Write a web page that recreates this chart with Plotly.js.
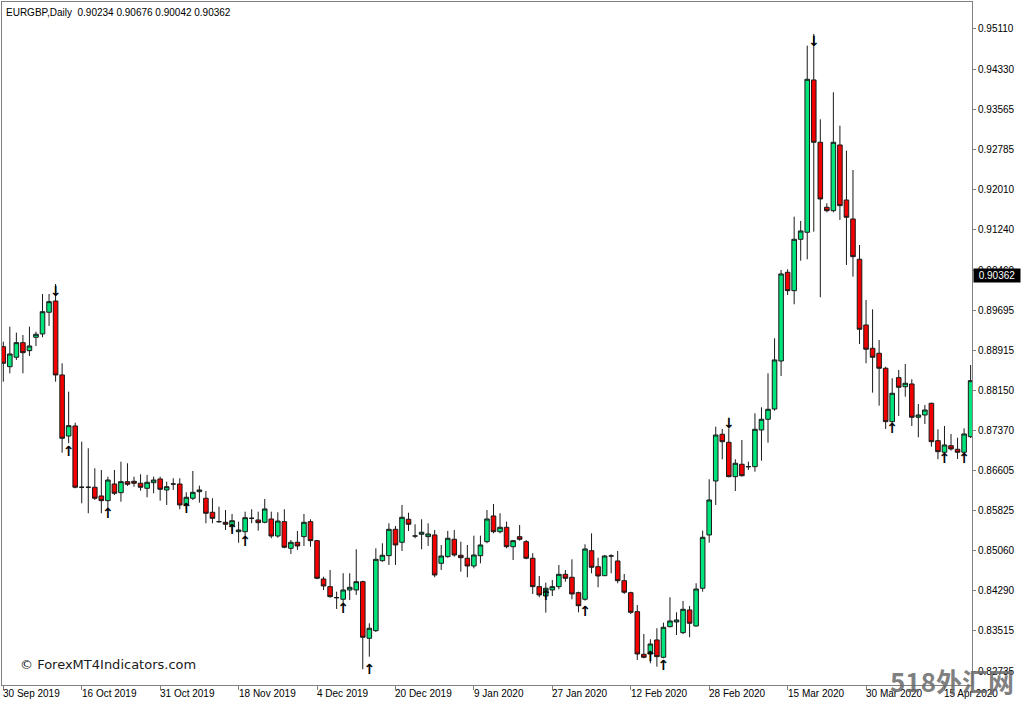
<!DOCTYPE html>
<html><head><meta charset="utf-8">
<script src="https://cdn.plot.ly/plotly-3.0.1.min.js"></script>
<style>html,body{margin:0;padding:0;background:#fff;}#chart{width:1024px;height:705px;}</style>
</head><body><div id="chart"></div>
<script>
const symbolTitle = "EURGBP,Daily";
const lastBarOHLC = [0.90234, 0.90676, 0.90042, 0.90362];

const opens = [0.88989,0.88603,0.88785,0.89066,0.88912,0.89170,0.89234,0.89652,0.89869,0.88444,
0.87268,0.87461,0.86280,0.86280,0.86280,0.86112,0.86022,0.86343,0.86176,0.86388,
0.86395,0.86357,0.86260,0.86368,0.86440,0.86228,0.86343,0.86343,0.85939,0.86068,
0.86195,0.86068,0.85798,0.85617,0.85605,0.85540,0.85424,0.85424,0.85682,0.85650,
0.85605,0.85669,0.85341,0.85617,0.85104,0.85220,0.85328,0.85617,0.85251,0.84513,
0.84365,0.84153,0.84122,0.84301,0.84301,0.84461,0.83370,0.83517,0.84865,0.84962,
0.85470,0.85220,0.85663,0.85341,0.85374,0.85328,0.85361,0.84815,0.84943,0.85278,
0.84970,0.84912,0.84763,0.84962,0.85232,0.85727,0.85424,0.85509,0.85135,0.85328,
0.85232,0.84912,0.84365,0.84185,0.84301,0.84365,0.84603,0.84546,0.84249,0.84122,
0.85058,0.84750,0.84576,0.84956,0.84860,0.84480,0.84249,0.83883,0.83062,0.83068,
0.83338,0.83004,0.83594,0.83684,0.83478,0.83916,0.83607,0.84334,0.85361,0.86401,
0.87301,0.87147,0.86484,0.86723,0.86677,0.86677,0.87384,0.87590,0.87788,0.88713,
0.90422,0.90068,0.91058,0.91193,0.94128,0.92927,0.91675,0.91609,0.92875,0.91815,
0.91449,0.90673,0.89407,0.88958,0.88862,0.88573,0.87544,0.88392,0.88218,0.88270,
0.87629,0.87673,0.87898,0.87178,0.86954,0.87081,0.87012,0.86954,0.87255];

const highs = [0.89085,0.89374,0.89259,0.89214,0.89374,0.89278,0.90004,0.90004,0.90197,0.88669,
0.88122,0.87524,0.87158,0.87031,0.86646,0.86613,0.86484,0.86613,0.86773,0.86742,
0.86484,0.86530,0.86517,0.86484,0.86484,0.86388,0.86453,0.86453,0.86183,0.86594,
0.86311,0.86208,0.86068,0.85906,0.85842,0.85765,0.85617,0.85810,0.85856,0.85810,
0.86054,0.85810,0.85798,0.85856,0.85264,0.85438,0.85765,0.85663,0.85264,0.84557,
0.84686,0.84268,0.84623,0.84623,0.85085,0.84480,0.83659,0.85104,0.85201,0.85586,
0.85534,0.85939,0.85790,0.85567,0.85663,0.85586,0.85457,0.85168,0.85438,0.85457,
0.85232,0.85168,0.85347,0.85347,0.85842,0.85958,0.85779,0.85617,0.85264,0.85553,
0.85264,0.85008,0.84571,0.84442,0.84494,0.84783,0.84686,0.84892,0.84268,0.85181,
0.85393,0.84923,0.84975,0.84989,0.85052,0.84609,0.84268,0.84012,0.83453,0.83351,
0.83563,0.83671,0.84160,0.83871,0.84089,0.83993,0.84430,0.85444,0.86434,0.87447,
0.87403,0.87417,0.86819,0.87191,0.86773,0.87706,0.87821,0.88476,0.89151,0.90467,
0.90480,0.91494,0.91411,0.94789,0.95014,0.93370,0.91752,0.93891,0.93247,0.92765,
0.92393,0.90948,0.89889,0.89709,0.89118,0.88603,0.88380,0.88540,0.88655,0.88361,
0.87885,0.87866,0.87910,0.87397,0.87461,0.87307,0.87235,0.87417,0.88636];

const lows = [0.88314,0.88476,0.88733,0.88476,0.88810,0.89002,0.89170,0.89388,0.88314,0.86946,
0.87128,0.86260,0.85971,0.85779,0.86035,0.85779,0.85842,0.86131,0.86002,0.86305,
0.86291,0.86214,0.86087,0.86164,0.86022,0.85939,0.86228,0.85856,0.85856,0.86035,
0.85983,0.85586,0.85586,0.85598,0.85457,0.85424,0.85212,0.85328,0.85586,0.85444,
0.85586,0.85297,0.85309,0.85104,0.84995,0.85072,0.85149,0.85135,0.84507,0.84301,
0.84153,0.83935,0.84045,0.84108,0.84205,0.82773,0.83016,0.83492,0.84846,0.84783,
0.84783,0.85052,0.85438,0.85297,0.85085,0.85149,0.84546,0.84686,0.84923,0.84943,
0.84653,0.84546,0.84719,0.84815,0.85201,0.85393,0.85393,0.85104,0.84879,0.85251,
0.84892,0.84224,0.84160,0.83864,0.84185,0.84314,0.84461,0.84122,0.83871,0.84095,
0.84623,0.84353,0.84571,0.84623,0.84430,0.84224,0.83838,0.82952,0.82985,0.82889,
0.82823,0.82985,0.83582,0.83434,0.83453,0.83390,0.83594,0.84268,0.85212,0.85939,
0.86819,0.86472,0.86208,0.86484,0.86613,0.86580,0.86792,0.87139,0.87756,0.88424,
0.89985,0.89806,0.90646,0.90673,0.91205,0.89941,0.91578,0.91578,0.91430,0.90563,
0.90338,0.89041,0.88669,0.88103,0.87852,0.87403,0.87480,0.87654,0.88025,0.87461,
0.87243,0.87499,0.87062,0.86819,0.86921,0.86985,0.86825,0.86892,0.87230];

const closes = [0.88669,0.88848,0.89066,0.88873,0.89002,0.89228,0.89663,0.89856,0.88444,0.87224,
0.87467,0.86280,0.86280,0.86280,0.86068,0.86022,0.86420,0.86164,0.86388,0.86338,
0.86357,0.86280,0.86376,0.86420,0.86241,0.86291,0.86343,0.85939,0.86087,0.86183,
0.86228,0.85779,0.85682,0.85617,0.85567,0.85636,0.85457,0.85694,0.85682,0.85598,
0.85862,0.85341,0.85630,0.85124,0.85220,0.85149,0.85605,0.85251,0.84526,0.84378,
0.84172,0.84153,0.84301,0.84353,0.84461,0.83390,0.83563,0.84892,0.84970,0.85470,
0.85168,0.85702,0.85567,0.85341,0.85413,0.85380,0.84590,0.84956,0.85297,0.84975,
0.84923,0.84763,0.84975,0.85168,0.85669,0.85424,0.85509,0.85135,0.85251,0.85278,
0.84912,0.84365,0.84205,0.84334,0.84365,0.84603,0.84526,0.84224,0.83998,0.85091,
0.84738,0.84571,0.84956,0.84956,0.84480,0.84257,0.83871,0.83068,0.83004,0.83260,
0.83016,0.83582,0.83704,0.83723,0.83929,0.83659,0.84320,0.85316,0.86035,0.87287,
0.87158,0.86484,0.86742,0.86503,0.86677,0.87397,0.87590,0.87783,0.88733,0.90390,
0.90068,0.91058,0.91218,0.94141,0.92927,0.91835,0.91609,0.92927,0.91706,0.91482,
0.90723,0.89324,0.88939,0.88785,0.88573,0.87544,0.88091,0.88207,0.88284,0.87629,
0.87673,0.87769,0.87158,0.86966,0.87095,0.87018,0.86954,0.87307,0.88334];

const upArrowIdx   = [10, 16, 28, 35, 37, 52, 56, 83, 89, 99, 101, 136, 144, 147];
const upArrowPrice = [0.86941,0.85746,0.85842,0.85438,0.85212,0.83916,0.82746,0.84166,0.83858,0.82991,0.82823,0.87384,0.86806,0.86806];
const downArrowIdx   = [8, 111, 124];
const downArrowPrice = [0.90024, 0.87499, 0.94841];

const xTickIdx = [0, 12, 24, 36, 48, 60, 72, 84, 96, 108, 120, 132, 144];
const xTickLabels = ["30 Sep 2019","16 Oct 2019","31 Oct 2019","18 Nov 2019","4 Dec 2019","20 Dec 2019",
  "9 Jan 2020","27 Jan 2020","12 Feb 2020","28 Feb 2020","15 Mar 2020","30 Mar 2020","15 Apr 2020"];
const yTickVals = [0.95110,0.94330,0.93565,0.92785,0.92010,0.91240,0.90460,0.89695,0.88915,
  0.88150,0.87370,0.86605,0.85825,0.85060,0.84290,0.83515,0.82735];
const yTickText = yTickVals.map(v => v.toFixed(5));

const copyrightText = "© ForexMT4Indicators.com";
const watermarkText = "518外汇网";

const barIdx = opens.map((_, i) => i);
const axisFont = {family: "Liberation Sans, Arial, sans-serif", size: 10, color: "#000"};
const borderGray = "#808080";
const arrowFont = {family: "DejaVu Sans", size: 14, color: "#000", weight: "bold"};

const traces = [
  {
    type: "candlestick",
    x: barIdx, open: opens, high: highs, low: lows, close: closes,
    increasing: {fillcolor: "#00e47c", line: {color: "#1a1a1a", width: 1}},
    decreasing: {fillcolor: "#f20000", line: {color: "#1a1a1a", width: 1}},
    whiskerwidth: 0,
    hoverinfo: "skip",
    showlegend: false
  },
  {
    type: "scatter", mode: "text",
    x: upArrowIdx, y: upArrowPrice, text: upArrowIdx.map(() => "↑"),
    textposition: "middle center", textfont: arrowFont,
    cliponaxis: false, hoverinfo: "skip", showlegend: false
  },
  {
    type: "scatter", mode: "text",
    x: downArrowIdx, y: downArrowPrice, text: downArrowIdx.map(() => "↓"),
    textposition: "middle center", textfont: arrowFont,
    cliponaxis: false, hoverinfo: "skip", showlegend: false
  }
];

const annotations = xTickIdx.map((ix, k) => ({
  x: ix, xref: "x", y: -0.0125, yref: "paper",
  text: xTickLabels[k], showarrow: false,
  xanchor: "left", yanchor: "middle", xshift: -2,
  font: axisFont
}));

annotations.push({
  x: 0, xref: "paper", y: 1, yref: "paper", xanchor: "left", yanchor: "top",
  xshift: 2, yshift: -3, showarrow: false,
  text: symbolTitle + "\u00a0\u00a0" + lastBarOHLC.map(v => v.toFixed(5)).join(" "),
  font: {family: "Liberation Sans, Arial, sans-serif", size: 10, color: "#000"}
});

annotations.push({
  x: 1, xref: "paper", y: lastBarOHLC[3], yref: "y", xanchor: "left", yanchor: "middle",
  xshift: 1, showarrow: false, text: lastBarOHLC[3].toFixed(5),
  bgcolor: "#000", borderpad: 1, width: 44,
  font: {family: "Liberation Sans, Arial, sans-serif", size: 10, color: "#fff"}
});

annotations.push({
  x: 0.0165, xref: "paper", y: 0.0293, yref: "paper", xanchor: "left", yanchor: "middle",
  showarrow: false, text: copyrightText,
  font: {family: "DejaVu Sans", size: 13, color: "#1a1a1a"}
});

annotations.push({
  x: 0.913, xref: "paper", y: 0.006, yref: "paper", xanchor: "left", yanchor: "middle",
  showarrow: false, text: watermarkText,
  font: {family: "Noto Sans CJK SC", size: 26, color: "rgba(105,105,105,0.85)", weight: "bold"}
});

const layout = {
  width: 1024, height: 705,
  margin: {l: 2, r: 52, t: 2, b: 20, pad: 0},
  paper_bgcolor: "#fff", plot_bgcolor: "#fff",
  showlegend: false,
  boxgap: 0.3, boxgroupgap: 0,
  xaxis: {
    type: "linear", range: [-0.199, 148.21], rangeslider: {visible: false},
    showgrid: false, zeroline: false, showline: true, mirror: true,
    linecolor: borderGray, linewidth: 1,
    ticks: "outside", ticklen: 4, tickcolor: borderGray, tickwidth: 1,
    tickmode: "array", tickvals: xTickIdx, showticklabels: false, fixedrange: true
  },
  yaxis: {
    side: "right", range: [0.82470, 0.95630],
    showgrid: false, zeroline: false, showline: true, mirror: true,
    linecolor: borderGray, linewidth: 1,
    ticks: "outside", ticklen: 3, tickcolor: borderGray, tickwidth: 1,
    tickmode: "array", tickvals: yTickVals, ticktext: yTickText,
    tickfont: axisFont, fixedrange: true
  },
  annotations: annotations
};

Plotly.newPlot("chart", traces, layout, {displayModeBar: false, staticPlot: true});
</script>
</body></html>
